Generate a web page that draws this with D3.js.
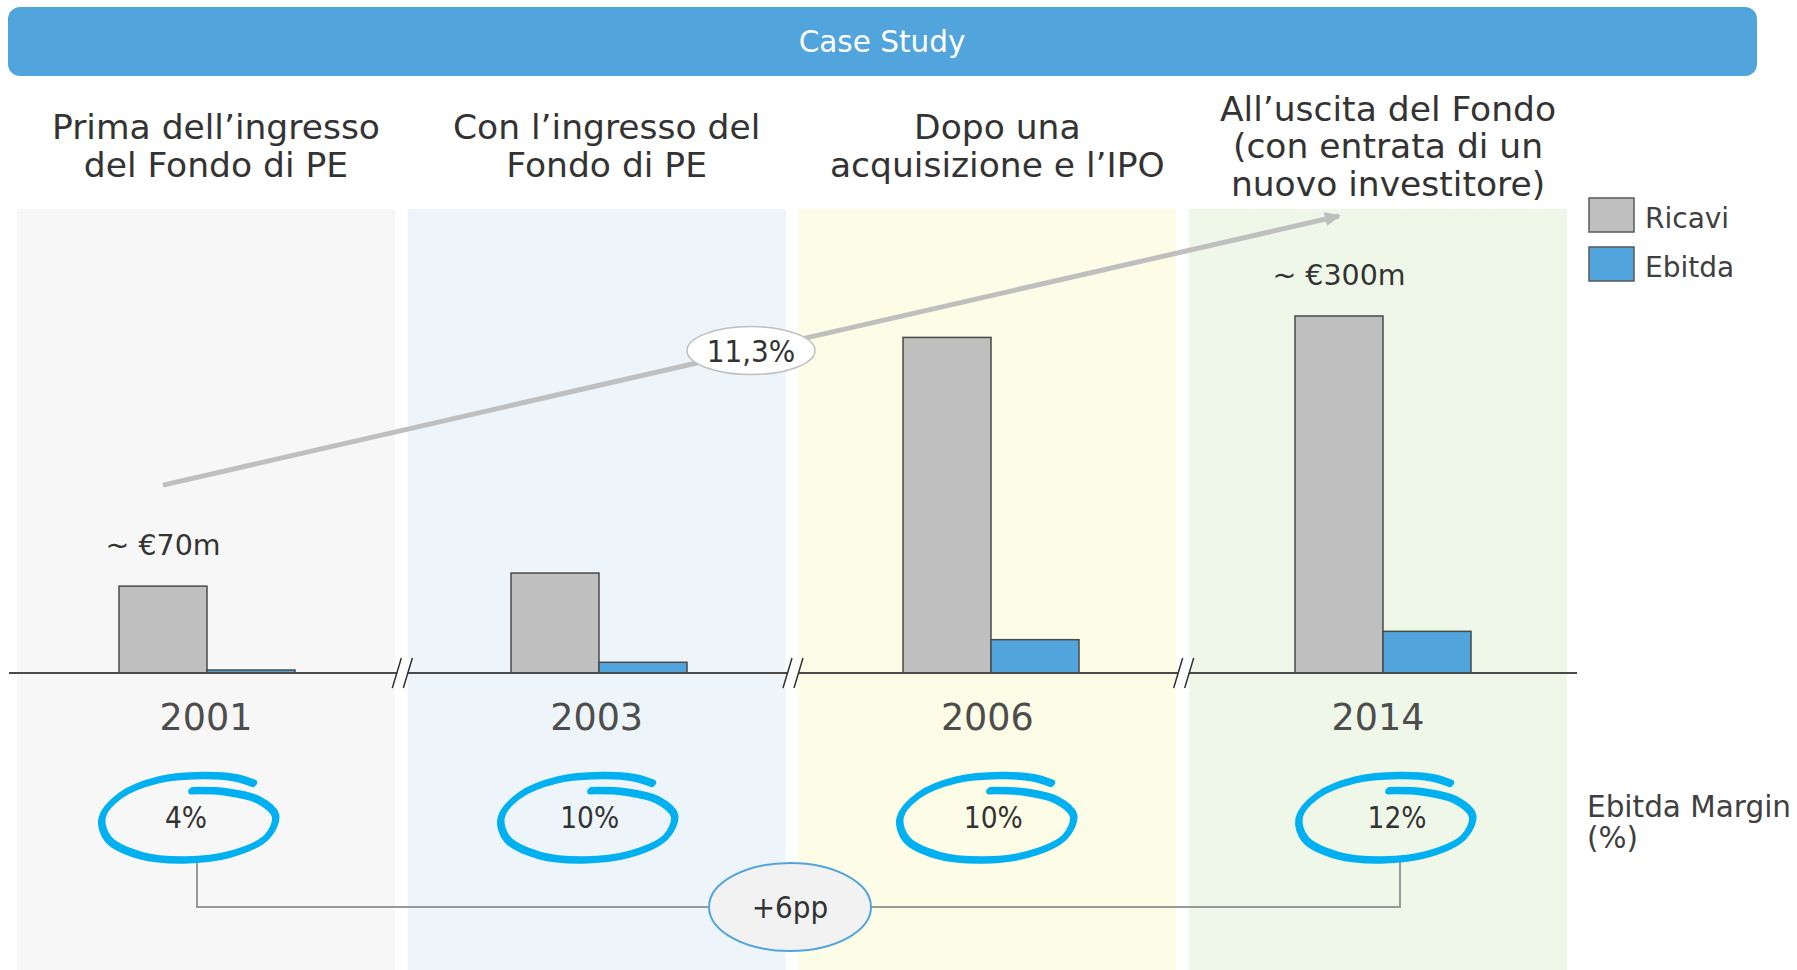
<!DOCTYPE html>
<html>
<head>
<meta charset="utf-8">
<script src="https://cdn.jsdelivr.net/npm/d3@7/dist/d3.min.js"></script>
<style>
  html, body { margin: 0; padding: 0; background: #fff; }
  svg { display: block; font-family: "DejaVu Sans", sans-serif; }
  .cond { font-family: "DejaVu Sans Condensed", "DejaVu Sans", sans-serif; font-stretch: condensed; }
</style>
</head>
<body>
<svg id="chart" width="1797" height="970"></svg>
<script>
'use strict'
// --- data ---
var categories = ["2001", "2003", "2006", "2014"];
var titles = [
  ["Prima dell\u2019ingresso", "del Fondo di PE"],
  ["Con l\u2019ingresso del", "Fondo di PE"],
  ["Dopo una", "acquisizione e l\u2019IPO"],
  ["All\u2019uscita del Fondo", "(con entrata di un", "nuovo investitore)"]
];
var series = ["Ricavi", "Ebitda"];
var ricavi = [73, 84, 282, 300];     // €m
var ebitda = [2.5, 9, 28, 35];       // €m
var margins = ["4%", "10%", "10%", "12%"];
var labelYears = ["2001", "2014"];
var labelTexts = ["~ \u20ac70m", "~ \u20ac300m"];
var cagrText = "11,3%";
var deltaText = "+6pp";
var headerText = "Case Study";

var panelColors = ["#f7f7f7", "#edf5fb", "#fdfce6", "#eff7e8"];
var seriesColors = {"Ricavi": "#bfbfbf", "Ebitda": "#52a5dc"};

var svg = d3.select("#chart");
var W = 1797, H = 970;
var axisY = 673;

var x = d3.scaleBand().domain(categories).range([17, 1567]).paddingInner(0.0325);
var xb = d3.scalePoint().domain(categories).range([207, 1383]);   // bar group centres
var xs = d3.scaleBand().domain(series).range([-88, 88]);
var y = d3.scaleLinear().domain([0, 300]).range([axisY, 316]);
var xc = d3.scalePoint().domain(categories).range([190, 1387]);   // margin circles
var xt = d3.scalePoint().domain(categories).range([186, 1397]);   // margin texts

function center(c){ return x(c) + x.bandwidth() / 2; }
function barX(c, s){ return xb(c) + xs(s); }

// header
svg.append("rect")
  .attr("x", 8).attr("y", 7).attr("width", 1749).attr("height", 69)
  .attr("rx", 12).attr("fill", "#52a5dc");
svg.append("text")
  .attr("x", 882).attr("y", 52)
  .attr("text-anchor", "middle").attr("fill", "#fff")
  .style("font-size", "29.5px")
  .text(headerText);

// panels
svg.append("g").selectAll("rect")
  .data(categories).enter().append("rect")
  .attr("x", d => x(d)).attr("y", 209)
  .attr("width", x.bandwidth()).attr("height", H - 209)
  .attr("fill", (d, i) => panelColors[i]);

// titles
var tg = svg.append("g").attr("fill", "#333").style("font-size", "34.5px").attr("text-anchor", "middle");
categories.forEach(function(c, i){
  var lines = titles[i];
  var t = tg.append("text").attr("x", center(c) + 10);
  lines.forEach(function(l, j){
    t.append("tspan")
      .attr("x", center(c) + 10)
      .attr("y", 158 + (j - (lines.length - 1) / 2) * 37.5)
      .text(l);
  });
});

// bars
var data = [];
categories.forEach(function(c, i){
  data.push({cat: c, s: "Ricavi", v: ricavi[i]});
  data.push({cat: c, s: "Ebitda", v: ebitda[i]});
});
svg.append("g").selectAll("rect")
  .data(data).enter().append("rect")
  .attr("x", d => barX(d.cat, d.s))
  .attr("y", d => y(d.v))
  .attr("width", xs.bandwidth())
  .attr("height", d => y(0) - y(d.v))
  .attr("fill", d => seriesColors[d.s])
  .attr("stroke", "#4a4a4a")
  .attr("stroke-width", 1.5);

// axis baseline
svg.append("line")
  .attr("x1", 9).attr("x2", 1577).attr("y1", axisY).attr("y2", axisY)
  .attr("stroke", "#4a4a4a").attr("stroke-width", 2);

// axis breaks between panels
var breaks = categories.slice(1).map(c => x(c) - (x.step() - x.bandwidth()) / 2);
var bg = svg.append("g").selectAll("g").data(breaks).enter().append("g")
  .attr("transform", d => "translate(" + d + "," + axisY + ")");
bg.append("path").attr("d", "M-9,15 L1,-15 L11,-15 L1,15 Z").attr("fill", "#fff");
bg.append("path").attr("d", "M-9,15 L0,-15 M2,15 L11,-15").attr("stroke", "#333").attr("stroke-width", 1.5).attr("fill", "none");

// year labels
svg.append("g").selectAll("text")
  .data(categories).enter().append("text")
  .attr("x", d => center(d)).attr("y", 730)
  .attr("text-anchor", "middle").attr("fill", "#4d4d4d")
  .style("font-size", "36.5px")
  .text(d => d);

// value labels
svg.append("g").selectAll("text")
  .data(labelYears).enter().append("text")
  .attr("x", d => barX(d, "Ricavi") + xs.bandwidth() / 2)
  .attr("y", d => y(ricavi[categories.indexOf(d)]) - 31)
  .attr("text-anchor", "middle").attr("fill", "#333")
  .style("font-size", "28.5px")
  .text((d, i) => labelTexts[i]);

// CAGR arrow
var defs = svg.append("defs");
defs.append("marker")
  .attr("id", "head").attr("viewBox", "0 0 16 14")
  .attr("refX", 14).attr("refY", 7)
  .attr("markerWidth", 16).attr("markerHeight", 14)
  .attr("markerUnits", "userSpaceOnUse").attr("orient", "auto")
  .append("path").attr("d", "M0,0 L16,7 L0,14 Z").attr("fill", "#bfbfbf");
var first = categories[0], last = categories[categories.length - 1];
var a0 = [barX(first, "Ricavi") + xs.bandwidth() / 2, y(ricavi[0]) - 101];
var a1 = [barX(last, "Ricavi") + xs.bandwidth() / 2, y(ricavi[ricavi.length - 1]) - 100];
svg.append("line")
  .attr("x1", a0[0]).attr("y1", a0[1]).attr("x2", a1[0]).attr("y2", a1[1])
  .attr("stroke", "#bfbfbf").attr("stroke-width", 5)
  .attr("marker-end", "url(#head)");
var am = [(a0[0] + a1[0]) / 2, (a0[1] + a1[1]) / 2];
svg.append("ellipse")
  .attr("cx", am[0]).attr("cy", am[1]).attr("rx", 64).attr("ry", 24)
  .attr("fill", "#fff").attr("stroke", "#bfbfbf").attr("stroke-width", 1.5);
svg.append("text").attr("class", "cond")
  .attr("x", am[0]).attr("y", am[1] + 11)
  .attr("text-anchor", "middle").attr("fill", "#333")
  .style("font-size", "31px")
  .text(cagrText);

// legend
var lg = svg.append("g").selectAll("g").data(series).enter().append("g")
  .attr("transform", (d, i) => "translate(1589," + (198 + i * 49) + ")");
lg.append("rect").attr("width", 45).attr("height", 34)
  .attr("fill", d => seriesColors[d]).attr("stroke", "#595959").attr("stroke-width", 1.5);
lg.append("text").attr("x", 56).attr("y", 30)
  .attr("fill", "#404040").style("font-size", "28px")
  .text(d => d);

// margin connector
var cy = 817;
var deltaX = x(categories[2]) - (x.step() - x.bandwidth()) / 2 - 2;
var cL = xc(first) + 7, cR = xc(last) + 13;
svg.append("path")
  .attr("d", "M" + cL + "," + (cy + 40) + " V907 H" + cR + " V" + (cy + 40))
  .attr("fill", "none").attr("stroke", "#999").attr("stroke-width", 2);
svg.append("ellipse")
  .attr("cx", deltaX).attr("cy", 907).attr("rx", 81).attr("ry", 44)
  .attr("fill", "#f2f2f2").attr("stroke", "#52a5dc").attr("stroke-width", 2);
svg.append("text").attr("class", "cond")
  .attr("x", deltaX).attr("y", 918)
  .attr("text-anchor", "middle").attr("fill", "#333")
  .style("font-size", "31px")
  .text(deltaText);

// hand-drawn margin circles
var scribble = [[0.03,-0.63],[0.42,-0.6],[0.78,-0.42],[0.98,-0.05],[0.88,0.45],[0.45,0.86],[-0.05,0.98],
  [-0.55,0.88],[-0.92,0.5],[-0.99,0.0],[-0.78,-0.52],[-0.35,-0.88],[0.15,-0.98],[0.52,-0.93],[0.73,-0.8]];
var rx = 88, ry = 43;
var line = d3.line().curve(d3.curveCatmullRom.alpha(0.5))
  .x(p => p[0] * rx).y(p => p[1] * ry);
var cg = svg.append("g").selectAll("g").data(categories).enter().append("g")
  .attr("transform", d => "translate(" + xc(d) + "," + cy + ")");
cg.append("path").attr("d", line(scribble)).attr("transform", "translate(-1.5,1.5)")
  .attr("fill", "none").attr("stroke", "#00b0f0").attr("stroke-width", 6).attr("stroke-linecap", "round");
cg.append("path").attr("d", line(scribble))
  .attr("fill", "none").attr("stroke", "#00b0f0").attr("stroke-width", 6).attr("stroke-linecap", "round");
svg.append("g").selectAll("text")
  .data(categories).enter().append("text").attr("class", "cond")
  .attr("x", d => xt(d)).attr("y", cy + 11)
  .attr("text-anchor", "middle").attr("fill", "#333")
  .style("font-size", "29.5px")
  .text((d, i) => margins[i]);

// margin label
svg.append("text")
  .attr("fill", "#404040").style("font-size", "29.5px")
  .selectAll("tspan").data(["Ebitda Margin", "(%)"]).enter().append("tspan")
  .attr("x", 1587).attr("y", (d, i) => 817 + i * 31)
  .text(d => d);
</script>
</body>
</html>
